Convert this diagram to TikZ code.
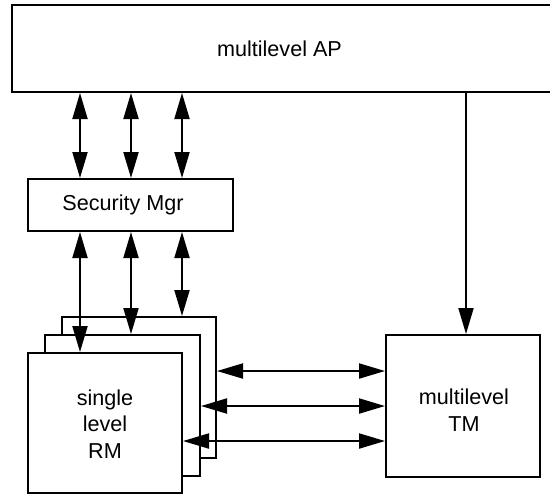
\documentclass[tikz,border=0pt]{standalone}
\usepackage{fontspec}
\setmainfont{Liberation Sans}
\usetikzlibrary{arrows.meta}
\begin{document}
\begin{tikzpicture}[x=0.5pt,y=-0.5pt,
  box/.style={draw,line width=1pt,fill=white,inner sep=0pt,rectangle},
  lbl/.style={font=\fontsize{10.8pt}{13.2pt}\selectfont,align=center,inner sep=0pt},
  conn/.style={line width=1pt,-{Triangle[length=13pt,width=7.5pt]}},
  dconn/.style={line width=1pt,{Triangle[length=13pt,width=7.5pt]}-{Triangle[length=13pt,width=7.5pt]}}]
\useasboundingbox (0,0) rectangle (550,495);
\clip (0,0) rectangle (550,495);
% boxes
\node[box,minimum width=274pt,minimum height=43.5pt] (ap) at (286,48.5) {};
\node[lbl] (aplabel) at (279.5,49) {multilevel AP};
\node[box,minimum width=102.5pt,minimum height=26pt] (sm) at (130.5,205) {};
\node[lbl] (smlabel) at (123,205) {Security Mgr};
\node[box,minimum width=77pt,minimum height=70.5pt] (rm3) at (139,387.5) {};
\node[box,minimum width=77.5pt,minimum height=70.5pt] (rm2) at (122.5,405.5) {};
\node[box,minimum width=77pt,minimum height=70pt] (rm1) at (105,423) {};
\node[lbl] (rmlabel) at (105,424) {single\\level\\RM};
\node[box,minimum width=77pt,minimum height=71pt] (tm) at (463,406) {};
\node[lbl] (tmlabel) at (464,410) {multilevel\\TM};
% columns and rows
\coordinate (c1) at (80,0);
\coordinate (c2) at (131,0);
\coordinate (c3) at (182,0);
\coordinate (c4) at (466,0);
\coordinate (r1) at (0,371);
\coordinate (r2) at (0,406);
\coordinate (r3) at (0,441);
% connectors
\draw[dconn] (ap.south -| c1) -- (sm.north -| c1);
\draw[dconn] (ap.south -| c2) -- (sm.north -| c2);
\draw[dconn] (ap.south -| c3) -- (sm.north -| c3);
\draw[dconn] (sm.south -| c1) -- (rm1.north -| c1);
\draw[dconn] (sm.south -| c2) -- (rm2.north -| c2);
\draw[dconn] (sm.south -| c3) -- (rm3.north -| c3);
\draw[conn] (ap.south -| c4) -- (tm.north -| c4);
\draw[dconn] (rm3.east |- r1) -- (tm.west |- r1);
\draw[dconn] (rm2.east |- r2) -- (tm.west |- r2);
\draw[dconn] (rm1.east |- r3) -- (tm.west |- r3);
\end{tikzpicture}
\end{document}
